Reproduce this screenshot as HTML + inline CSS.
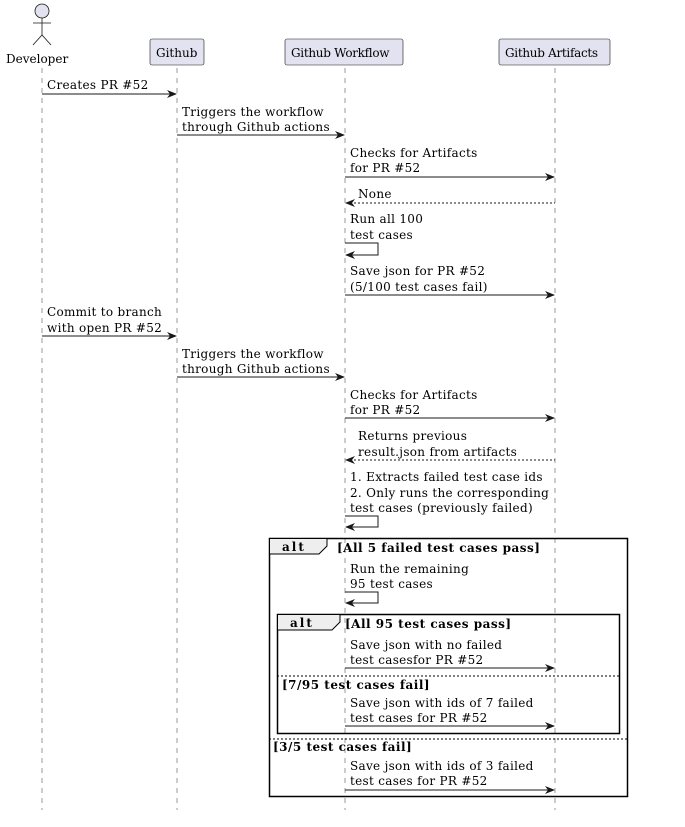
<!DOCTYPE html>
<html><head><meta charset="utf-8"><style>
body{margin:0;background:#fff}
svg text{font-family:"DejaVu Serif","Liberation Serif",serif;font-size:12px;letter-spacing:0.3px;fill:#000}
.b{font-weight:bold;letter-spacing:0.5px}
</style></head><body>
<svg width="685" height="822" viewBox="0 0 685 822" xmlns="http://www.w3.org/2000/svg">
<defs>
<marker id="a" markerWidth="10" markerHeight="8" refX="9" refY="4" orient="auto" markerUnits="userSpaceOnUse"><path d="M0,0 L10,4 L0,8 L3,4 Z" fill="#181818"/></marker>
<marker id="o" markerWidth="10" markerHeight="8" refX="1" refY="4" orient="auto" markerUnits="userSpaceOnUse"><path d="M10,0 L0,4 L10,8 L7,4 Z" fill="#181818"/></marker>
</defs>
<g stroke="#999" stroke-dasharray="5,5" stroke-width="1">
<line x1="42" y1="68" x2="42" y2="810"/>
<line x1="177" y1="68" x2="177" y2="810"/>
<line x1="345" y1="68" x2="345" y2="810"/>
<line x1="555" y1="68" x2="555" y2="810"/>
</g>
<g stroke="#181818" fill="#E2E2F0" stroke-width="0.8">
<circle cx="42" cy="11" r="7"/>
<line x1="42" y1="18" x2="42" y2="35"/>
<line x1="33" y1="23" x2="51" y2="23"/>
<polyline fill="none" points="33,45 42,35 51,45"/>
</g>
<text x="6" y="63" style="letter-spacing:0">Developer</text>
<g fill="#E2E2F0" stroke="#181818" stroke-width="0.6">
<rect x="150" y="39" width="54" height="26" rx="2"/>
<rect x="285" y="39" width="118" height="26" rx="2"/>
<rect x="499" y="39" width="111" height="26" rx="2"/>
</g>
<text x="156" y="57" style="letter-spacing:0">Github</text>
<text x="291" y="57" style="letter-spacing:-0.3px">Github Workflow</text>
<text x="505" y="57" style="letter-spacing:-0.3px">Github Artifacts</text>

<g stroke="#181818" stroke-width="1" fill="none">
<line x1="42" y1="94" x2="176" y2="94" marker-end="url(#a)"/>
<line x1="177" y1="135" x2="344" y2="135" marker-end="url(#a)"/>
<line x1="345" y1="177" x2="554" y2="177" marker-end="url(#a)"/>
<line x1="346" y1="203" x2="555" y2="203" stroke-dasharray="2,2" marker-start="url(#o)"/>
<polyline points="345,243 378,243 378,255 346,255" marker-end="url(#a)"/>
<line x1="345" y1="295" x2="554" y2="295" marker-end="url(#a)"/>
<line x1="42" y1="336" x2="176" y2="336" marker-end="url(#a)"/>
<line x1="177" y1="377" x2="344" y2="377" marker-end="url(#a)"/>
<line x1="345" y1="418" x2="554" y2="418" marker-end="url(#a)"/>
<line x1="346" y1="460" x2="555" y2="460" stroke-dasharray="2,2" marker-start="url(#o)"/>
<polyline points="345,516 378,516 378,527 346,527" marker-end="url(#a)"/>
<polyline points="345,592 378,592 378,603 346,603" marker-end="url(#a)"/>
<line x1="345" y1="668" x2="554" y2="668" marker-end="url(#a)"/>
<line x1="345" y1="726" x2="554" y2="726" marker-end="url(#a)"/>
<line x1="345" y1="790" x2="554" y2="790" marker-end="url(#a)"/>
</g>

<text x="47" y="89">Creates PR #52</text>
<text x="182" y="116">Triggers the workflow</text>
<text x="182" y="131">through Github actions</text>
<text x="350" y="157">Checks for Artifacts</text>
<text x="350" y="172">for PR #52</text>
<text x="358" y="198">None</text>
<text x="350" y="223">Run all 100</text>
<text x="350" y="239">test cases</text>
<text x="350" y="275">Save json for PR #52</text>
<text x="350" y="291">(5/100 test cases fail)</text>
<text x="47" y="316">Commit to branch</text>
<text x="47" y="332">with open PR #52</text>
<text x="182" y="358">Triggers the workflow</text>
<text x="182" y="373">through Github actions</text>
<text x="350" y="399">Checks for Artifacts</text>
<text x="350" y="414">for PR #52</text>
<text x="358" y="440">Returns previous</text>
<text x="358" y="456">result.json from artifacts</text>
<text x="350" y="481">1. Extracts failed test case ids</text>
<text x="350" y="497">2. Only runs the corresponding</text>
<text x="350" y="512">test cases (previously failed)</text>

<rect x="269.5" y="538.5" width="358" height="258" fill="none" stroke="#000" stroke-width="1.5"/>
<path d="M269.5,538.5 H327 V546 L319,554 H269.5 Z" fill="#EEEEEE" stroke="#000" stroke-width="1"/>
<text x="282" y="551" class="b" style="letter-spacing:2px">alt</text>
<text x="337" y="552" class="b">[All 5 failed test cases pass]</text>
<text x="350" y="573">Run the remaining</text>
<text x="350" y="588">95 test cases</text>
<rect x="277.5" y="614.5" width="342" height="119" fill="none" stroke="#000" stroke-width="1.5"/>
<path d="M277.5,614.5 H340 V622 L332,630 H277.5 Z" fill="#EEEEEE" stroke="#000" stroke-width="1"/>
<text x="290" y="627" class="b" style="letter-spacing:2px">alt</text>
<text x="345" y="628" class="b">[All 95 test cases pass]</text>
<text x="350" y="649">Save json with no failed</text>
<text x="350" y="664">test casesfor PR #52</text>
<line x1="277" y1="676" x2="620" y2="676" stroke="#000" stroke-dasharray="2,2"/>
<text x="282" y="689" class="b">[7/95 test cases fail]</text>
<text x="350" y="707">Save json with ids of 7 failed</text>
<text x="350" y="722">test cases for PR #52</text>
<line x1="269" y1="739" x2="627" y2="739" stroke="#000" stroke-dasharray="2,2"/>
<text x="273" y="751" class="b">[3/5 test cases fail]</text>
<text x="350" y="770">Save json with ids of 3 failed</text>
<text x="350" y="785">test cases for PR #52</text>
</svg>
</body></html>
